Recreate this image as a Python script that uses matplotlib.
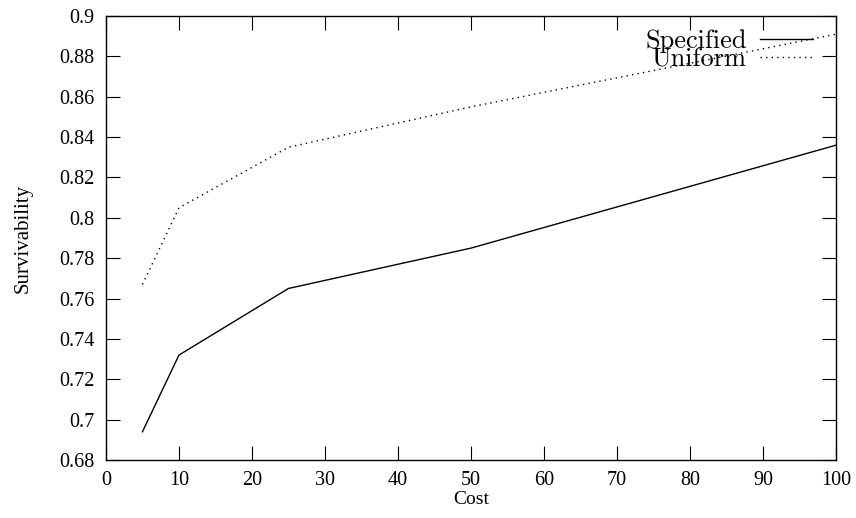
import matplotlib
matplotlib.use('Agg')
import matplotlib.pyplot as plt

# data
cost = [5, 10, 25, 50, 100]
specified = [0.694, 0.732, 0.765, 0.785, 0.836]
uniform = [0.767, 0.805, 0.835, 0.855, 0.891]

xticks = list(range(0, 101, 10))
yticks = [0.68, 0.70, 0.72, 0.74, 0.76, 0.78, 0.80, 0.82, 0.84, 0.86, 0.88, 0.90]
ytick_labels = ['0.68', '0.7', '0.72', '0.74', '0.76', '0.78', '0.8', '0.82', '0.84', '0.86', '0.88', '0.9']

plt.rcParams['font.family'] = 'Liberation Serif'

fig = plt.figure(figsize=(8.56, 5.18), dpi=100)
ax = fig.add_axes([0.1238, 0.112, 0.8528, 0.857])

ax.plot(cost, specified, color='black', lw=1.0, label='Specified')
ax.plot(cost, uniform, color='black', lw=1.0, linestyle=(0, (1, 3)), label='Uniform')

ax.set_xlim(0, 100)
ax.set_ylim(0.68, 0.9)
ax.set_xticks(xticks)
ax.set_yticks(yticks)
ax.set_yticklabels(ytick_labels)
ax.tick_params(direction='in', length=10, width=0.8, top=True, right=True,
               labelsize=14.5)
ax.tick_params(axis='y', pad=8)
ax.tick_params(axis='x', pad=8)
for s in ax.spines.values():
    s.set_linewidth(1.0)

ax.set_xlabel('Cost', fontsize=14, labelpad=1)
ax.set_ylabel('Survivability', fontsize=15, labelpad=19)

leg = ax.legend(loc='upper right', frameon=False, markerfirst=False,
                prop={'family': 'cmr10', 'size': 19}, handlelength=2.0,
                handletextpad=0.5, labelspacing=-0.22, borderaxespad=0.0,
                borderpad=0.0, bbox_to_anchor=(0.968, 0.97))

fig.savefig('out.png', dpi=100)
